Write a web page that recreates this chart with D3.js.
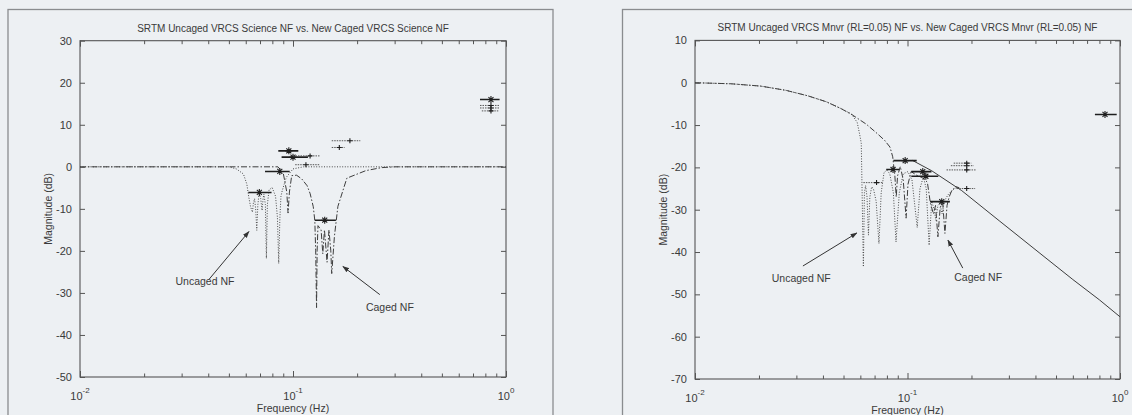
<!DOCTYPE html>
<html>
<head>
<meta charset="utf-8">
<script src="https://cdn.jsdelivr.net/npm/d3@7"></script>
<style>
  html, body { margin: 0; padding: 0; background: #edf0f3; }
  svg { display: block; }
  text { font-family: "Liberation Sans", Arial, Helvetica, sans-serif; fill: #3a3a3a; }
</style>
</head>
<body>
<svg id="chart" width="1132" height="415"></svg>
<script>
// ---- Shared axis data ----
const freqDomain = [0.01, 1];
const freqMajorTicks = [0.01, 0.1, 1];
const freqTickExponents = ["-2", "-1", "0"];

// ---- Science notch filter (left panel) ----
const scienceTitle = "SRTM Uncaged VRCS Science NF vs. New Caged VRCS Science NF";
const scienceYDomain = [-50, 30];
const scienceYTicks = [30, 20, 10, 0, -10, -20, -30, -40, -50];

// [frequency Hz, magnitude dB]
const scienceUncaged = [
  [0.01, 0], [0.05, 0], [0.0542, -0.5], [0.0585, -1.7], [0.0607, -4.1], [0.062, -7.2],
  [0.0632, -9.5], [0.0645, -10.8], [0.0652, -8.5], [0.066, -7.6], [0.0668, -10],
  [0.0676, -15.1], [0.0684, -9], [0.0694, -6.1], [0.0705, -7.5], [0.0716, -10.4],
  [0.0724, -7.5], [0.073, -6.5], [0.0742, -9], [0.075, -21.8], [0.0758, -9],
  [0.0772, -5.5], [0.0798, -4.9], [0.0828, -7], [0.0845, -12], [0.0857, -23],
  [0.0868, -12], [0.0878, -7], [0.089, -5.7], [0.093, -2.5], [0.1, -0.5],
  [0.112, 0], [1, 0]
];
const scienceCaged = [
  [0.01, 0], [0.085, 0], [0.09, -1.5], [0.0935, -6], [0.0948, -11], [0.0962, -6],
  [0.0986, -2.1], [0.104, -2.0], [0.11, -2.9], [0.1165, -4.5], [0.1204, -6.4],
  [0.1245, -9.5], [0.1266, -12.8], [0.1278, -20], [0.129, -33.5], [0.1298, -20],
  [0.131, -14], [0.1355, -15], [0.138, -20.7], [0.1405, -15], [0.1445, -22.7],
  [0.1475, -15], [0.1505, -20], [0.152, -25.4], [0.1565, -16.5], [0.1625, -9.4],
  [0.179, -2.7], [0.22, -0.9], [0.26, -0.2], [0.3, 0], [1, 0]
];
// [low Hz, high Hz, marker Hz, dB, dotted]
const scienceModes = [
  [0.0853, 0.1059, 0.0956, 3.8, false],
  [0.0884, 0.1175, 0.1, 2.3, false],
  [0.1, 0.134, 0.1203, 2.6, true],
  [0.1024, 0.134, 0.115, 0.5, true],
  [0.152, 0.207, 0.185, 6.2, true],
  [0.152, 0.175, 0.165, 4.6, true],
  [0.0739, 0.0965, 0.0867, -1.1, false],
  [0.0617, 0.0793, 0.0695, -6.1, false],
  [0.1265, 0.159, 0.1409, -12.7, false],
  [0.755, 0.933, 0.85, 16.0, false],
  [0.755, 0.933, 0.85, 14.6, true],
  [0.755, 0.933, 0.85, 14.0, true],
  [0.77, 0.92, 0.85, 13.3, true]
];
// [label, text Hz, text dB, arrow-start Hz, arrow-start dB, arrow-tip Hz, arrow-tip dB]
const scienceNotes = [
  ["Uncaged NF", 0.0386, -28, 0.0403, -26.8, 0.0621, -15.4],
  ["Caged NF", 0.285, -34.4, 0.2556, -30.4, 0.1715, -23.7]
];

// ---- Maneuver notch filter (right panel) ----
const mnvrTitle = "SRTM Uncaged VRCS Mnvr (RL=0.05) NF vs. New Caged VRCS Mnvr (RL=0.05) NF";
const mnvrYDomain = [-70, 10];
const mnvrYTicks = [10, 0, -10, -20, -30, -40, -50, -60, -70];

const mnvrUncaged = [
  [0.01, 0], [0.0148, -0.25], [0.0204, -0.8], [0.0268, -1.8], [0.034, -3.1],
  [0.0415, -4.5], [0.0486, -6.1], [0.0546, -7.4], [0.058, -9.4], [0.0596, -12.3],
  [0.0606, -14.3], [0.062, -43.5], [0.0627, -26], [0.0635, -24.3], [0.0645, -27],
  [0.0655, -36], [0.0665, -27], [0.0678, -24.6], [0.0691, -25], [0.0712, -28],
  [0.0734, -38], [0.0752, -26], [0.0775, -21.3], [0.0799, -20.6], [0.0825, -21.5],
  [0.0858, -26], [0.0883, -37.6], [0.0915, -26], [0.0955, -21.5], [0.1005, -21],
  [0.105, -23], [0.1111, -34.2], [0.1145, -25], [0.1187, -22.2], [0.1225, -25],
  [0.1264, -38.4], [0.130, -28], [0.1335, -30], [0.136, -32.5], [0.139, -29],
  [0.142, -28.5], [0.1455, -31], [0.149, -28], [0.155, -26.5], [0.165, -25],
  [0.175, -24.8]
];
const mnvrCaged = [
  [0.01, 0], [0.0148, -0.25], [0.0204, -0.8], [0.0268, -1.8], [0.034, -3.1],
  [0.0415, -4.5], [0.0486, -6.1], [0.055, -7.6], [0.064, -9.8], [0.072, -12.0],
  [0.078, -13.6], [0.0827, -15.2], [0.0852, -17.5], [0.0872, -22], [0.0885, -27],
  [0.0898, -22], [0.0925, -19.8], [0.0955, -23], [0.0985, -32], [0.1005, -24],
  [0.104, -21], [0.11, -21.8], [0.118, -22.5], [0.124, -23.5], [0.1282, -28.5],
  [0.1325, -31], [0.1355, -29], [0.139, -36.4], [0.1425, -29.5], [0.1465, -28.5],
  [0.15, -35.6], [0.1535, -29], [0.157, -27], [0.1615, -25.5], [0.17, -24.6],
  [0.175, -24.8]
];
// high-frequency roll-off shared by both filters
const mnvrRolloff = [
  [0.105, -18.3], [0.13, -20.8], [0.18, -25.5], [0.27, -32.6], [0.42, -40.3],
  [0.6, -46.5], [0.8, -51.3], [1, -55.3]
];
const mnvrModes = [
  [0.0858, 0.1105, 0.0975, -18.4, false],
  [0.0794, 0.0915, 0.0855, -20.5, false],
  [0.1042, 0.1297, 0.118, -21.0, false],
  [0.1042, 0.1396, 0.122, -22.1, false],
  [0.062, 0.0769, 0.0715, -23.6, true],
  [0.1277, 0.1583, 0.1449, -28.1, false],
  [0.1706, 0.2081, 0.1899, -25.0, true],
  [0.1527, 0.21, 0.19, -20.6, true],
  [0.16, 0.205, 0.19, -19.6, true],
  [0.165, 0.2, 0.19, -19.0, true],
  [0.762, 0.965, 0.85, -7.5, false]
];
const mnvrNotes = [
  ["Uncaged NF", 0.0316, -47.1, 0.0322, -43.3, 0.0578, -35.5],
  ["Caged NF", 0.215, -46.9, 0.182, -43.8, 0.155, -37.2]
];

// ---- Drawing ----
const svg = d3.select("#chart");

const defs = svg.append("defs");
defs.append("marker")
  .attr("id", "arrowhead")
  .attr("viewBox", "0 0 10 10")
  .attr("refX", 9).attr("refY", 5)
  .attr("markerWidth", 7).attr("markerHeight", 7)
  .attr("markerUnits", "userSpaceOnUse")
  .attr("orient", "auto")
  .append("path")
  .attr("d", "M0,1.5 L10,5 L0,8.5 Z")
  .attr("fill", "#333");

function drawPanel(cfg) {
  const g = svg.append("g");

  // panel frame
  g.append("rect")
    .attr("x", cfg.frame[0]).attr("y", cfg.frame[1])
    .attr("width", cfg.frame[2]).attr("height", cfg.frame[3])
    .attr("fill", "none").attr("stroke", "#8a8c8f").attr("stroke-width", 1.3);

  const x = d3.scaleLog().domain(freqDomain).range([cfg.left, cfg.right]);
  const y = d3.scaleLinear().domain(cfg.yDomain).range([cfg.bottom, cfg.top]);

  const clipId = "clip-" + cfg.id;
  defs.append("clipPath").attr("id", clipId)
    .append("rect")
    .attr("x", cfg.left).attr("y", cfg.top)
    .attr("width", cfg.right - cfg.left).attr("height", cfg.bottom - cfg.top);

  // axes box
  g.append("rect")
    .attr("x", cfg.left).attr("y", cfg.top)
    .attr("width", cfg.right - cfg.left).attr("height", cfg.bottom - cfg.top)
    .attr("fill", "none").attr("stroke", "#555").attr("stroke-width", 1.1);

  // inward ticks on all four sides
  const minorTicks = x.ticks().filter(t => freqMajorTicks.indexOf(t) < 0);
  const bottomAxis = d3.axisBottom(x).tickValues(freqMajorTicks).tickSize(-6).tickFormat("");
  const topAxis = d3.axisTop(x).tickValues(freqMajorTicks).tickSize(-6).tickFormat("");
  const bottomMinor = d3.axisBottom(x).tickValues(minorTicks).tickSize(-3.5).tickFormat("");
  const topMinor = d3.axisTop(x).tickValues(minorTicks).tickSize(-3.5).tickFormat("");
  const leftAxis = d3.axisLeft(y).tickValues(cfg.yTicks).tickSize(-5)
    .tickFormat(d => String(d)).tickPadding(8);
  const rightAxis = d3.axisRight(y).tickValues(cfg.yTicks).tickSize(-5).tickFormat("");

  const styleAxis = sel => {
    sel.select(".domain").remove();
    sel.selectAll("line").attr("stroke", "#555").attr("stroke-width", 1);
    sel.selectAll("text").attr("fill", "#3a3a3a").style("font-size", "11px")
      .style("font-family", "'Liberation Sans', Arial, sans-serif");
  };
  g.append("g").attr("transform", `translate(0,${cfg.bottom})`).call(bottomAxis).call(styleAxis);
  g.append("g").attr("transform", `translate(0,${cfg.top})`).call(topAxis).call(styleAxis);
  g.append("g").attr("transform", `translate(0,${cfg.bottom})`).call(bottomMinor).call(styleAxis);
  g.append("g").attr("transform", `translate(0,${cfg.top})`).call(topMinor).call(styleAxis);
  g.append("g").attr("transform", `translate(${cfg.left},0)`).call(leftAxis).call(styleAxis);
  g.append("g").attr("transform", `translate(${cfg.right},0)`).call(rightAxis).call(styleAxis);

  // power-of-ten labels on the frequency axis
  freqMajorTicks.forEach((t, i) => {
    const lbl = g.append("text")
      .attr("x", x(t)).attr("y", cfg.bottom + 23)
      .attr("text-anchor", "middle")
      .style("font-size", "11px");
    lbl.append("tspan").text("10");
    lbl.append("tspan").attr("dy", -7).style("font-size", "8px").text(freqTickExponents[i]);
  });

  // titles
  g.append("text")
    .attr("x", (cfg.left + cfg.right) / 2).attr("y", cfg.top - 9)
    .attr("text-anchor", "middle").style("font-size", "10px")
    .text(cfg.title);
  g.append("text")
    .attr("x", (cfg.left + cfg.right) / 2).attr("y", cfg.bottom + 35)
    .attr("text-anchor", "middle").style("font-size", "10.5px")
    .text("Frequency (Hz)");
  g.append("text")
    .attr("transform", `translate(${cfg.left - 28},${(cfg.top + cfg.bottom) / 2}) rotate(-90)`)
    .attr("text-anchor", "middle").style("font-size", "10.5px")
    .text("Magnitude (dB)");

  const plot = g.append("g").attr("clip-path", `url(#${clipId})`);
  const line = d3.line().x(d => x(d[0])).y(d => y(d[1]));

  // filter responses
  if (cfg.rolloff) {
    plot.append("path").datum(cfg.rolloff).attr("d", line)
      .attr("fill", "none").attr("stroke", "#3d3d3d").attr("stroke-width", 1);
  }
  plot.append("path").datum(cfg.caged).attr("d", line)
    .attr("fill", "none").attr("stroke", "#3d3d3d").attr("stroke-width", 1)
    .attr("stroke-dasharray", "6,2,1.5,2");
  plot.append("path").datum(cfg.uncaged).attr("d", line)
    .attr("fill", "none").attr("stroke", "#4a4a4a").attr("stroke-width", 1)
    .attr("stroke-dasharray", "1,1.6");

  // mode bands with asterisk markers
  const modes = plot.selectAll("g.mode").data(cfg.modes).enter().append("g").attr("class", "mode");
  modes.append("line")
    .attr("x1", d => x(d[0])).attr("x2", d => x(d[1]))
    .attr("y1", d => y(d[3])).attr("y2", d => y(d[3]))
    .attr("stroke", d => d[4] ? "#555" : "#1e1e1e")
    .attr("stroke-width", d => d[4] ? 1 : 1.6)
    .attr("stroke-dasharray", d => d[4] ? "1.5,1" : null);
  modes.append("path")
    .attr("transform", d => `translate(${x(d[2])},${y(d[3])})`)
    .attr("d", d => d[4]
      ? "M-2.5,0H2.5M0,-2.5V2.5"
      : "M-3.5,0H3.5M0,-3.5V3.5M-2.5,-2.5L2.5,2.5M-2.5,2.5L2.5,-2.5")
    .attr("stroke", "#1e1e1e").attr("stroke-width", 1.1).attr("fill", "none");

  // callouts
  cfg.notes.forEach(n => {
    g.append("text")
      .attr("x", x(n[1])).attr("y", y(n[2]))
      .attr("text-anchor", "middle").style("font-size", "10.5px")
      .text(n[0]);
    g.append("line")
      .attr("x1", x(n[3])).attr("y1", y(n[4]))
      .attr("x2", x(n[5])).attr("y2", y(n[6]))
      .attr("stroke", "#333").attr("stroke-width", 1)
      .attr("marker-end", "url(#arrowhead)");
  });
}

drawPanel({
  id: "science", title: scienceTitle,
  left: 80, right: 506, top: 40.7, bottom: 377,
  frame: [8, 9.5, 545, 430],
  yDomain: scienceYDomain, yTicks: scienceYTicks,
  uncaged: scienceUncaged, caged: scienceCaged, modes: scienceModes, notes: scienceNotes
});
drawPanel({
  id: "mnvr", title: mnvrTitle,
  left: 695, right: 1120, top: 40.4, bottom: 379,
  frame: [622.5, 9.5, 530, 430],
  yDomain: mnvrYDomain, yTicks: mnvrYTicks,
  uncaged: mnvrUncaged, caged: mnvrCaged, rolloff: mnvrRolloff,
  modes: mnvrModes, notes: mnvrNotes
});
</script>
</body>
</html>
